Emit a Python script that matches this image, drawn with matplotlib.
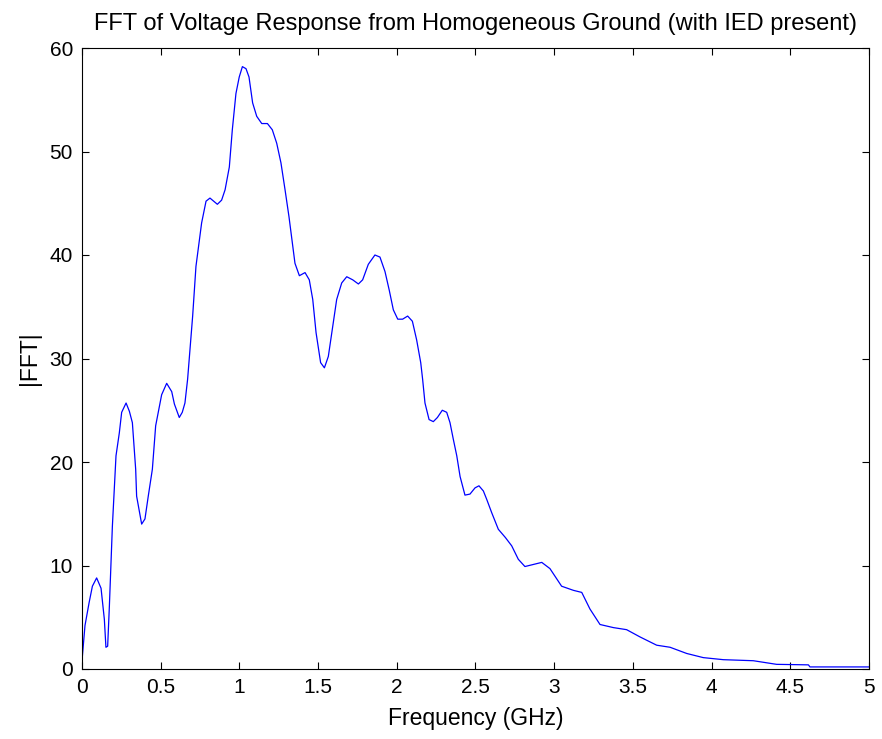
import matplotlib
matplotlib.use("Agg")
import matplotlib.pyplot as plt
from matplotlib.ticker import FuncFormatter

freq_ghz = [0.0, 0.019, 0.045, 0.066, 0.093, 0.121, 0.142, 0.152, 0.163, 0.174, 0.193, 0.216,
            0.237, 0.252, 0.280, 0.301, 0.320, 0.341, 0.347, 0.379, 0.400, 0.421, 0.447, 0.468,
            0.506, 0.538, 0.570, 0.587, 0.618, 0.637, 0.654, 0.671, 0.703, 0.724, 0.760, 0.788,
            0.813, 0.860, 0.887, 0.909, 0.936, 0.955, 0.978, 0.999, 1.019, 1.042, 1.061, 1.084,
            1.110, 1.142, 1.178, 1.209, 1.237, 1.264, 1.290, 1.315, 1.336, 1.353, 1.381, 1.417,
            1.444, 1.466, 1.487, 1.516, 1.540, 1.565, 1.593, 1.618, 1.650, 1.682, 1.720, 1.756,
            1.783, 1.819, 1.861, 1.893, 1.925, 1.952, 1.978, 2.006, 2.037, 2.069, 2.099, 2.126,
            2.152, 2.164, 2.179, 2.205, 2.232, 2.258, 2.289, 2.317, 2.338, 2.359, 2.381, 2.402,
            2.433, 2.465, 2.497, 2.522, 2.550, 2.571, 2.603, 2.645, 2.690, 2.730, 2.772, 2.814,
            2.867, 2.921, 2.973, 3.047, 3.122, 3.175, 3.227, 3.291, 3.376, 3.460, 3.545, 3.651,
            3.736, 3.842, 3.947, 4.075, 4.265, 4.413, 4.615, 4.625, 5.0]
fft_mag = [0.8, 4.2, 6.4, 8.0, 8.8, 7.8, 4.8, 2.1, 2.2, 6.1, 13.8, 20.6,
           22.8, 24.8, 25.7, 24.9, 23.8, 19.3, 16.7, 14.0, 14.5, 16.7, 19.3, 23.5,
           26.5, 27.6, 26.8, 25.6, 24.3, 24.8, 25.7, 28.0, 34.1, 38.9, 43.1, 45.2,
           45.5, 44.9, 45.3, 46.3, 48.5, 52.1, 55.6, 57.2, 58.2, 58.0, 57.2, 54.7,
           53.4, 52.7, 52.7, 52.1, 50.8, 48.9, 46.3, 43.7, 41.2, 39.2, 38.0, 38.3,
           37.6, 35.7, 32.5, 29.6, 29.1, 30.2, 33.1, 35.7, 37.3, 37.9, 37.6, 37.2,
           37.6, 39.1, 40.0, 39.8, 38.4, 36.6, 34.7, 33.8, 33.8, 34.1, 33.6, 31.8,
           29.6, 28.0, 25.7, 24.1, 23.9, 24.3, 25.0, 24.8, 23.8, 22.2, 20.6, 18.6,
           16.8, 16.9, 17.5, 17.7, 17.2, 16.4, 15.1, 13.5, 12.7, 11.9, 10.6, 9.9,
           10.1, 10.3, 9.7, 8.0, 7.6, 7.4, 5.8, 4.3, 4.0, 3.8, 3.1, 2.3,
           2.1, 1.5, 1.1, 0.9, 0.8, 0.45, 0.4, 0.2, 0.2]

x_ticks = [0, 0.5, 1, 1.5, 2, 2.5, 3, 3.5, 4, 4.5, 5]
y_ticks = [0, 10, 20, 30, 40, 50, 60]

plt.rcParams['font.family'] = ['Liberation Sans', 'DejaVu Sans']

fig = plt.figure(figsize=(8.82, 7.39), dpi=100)
ax = fig.add_axes([82/882, (739-669)/739, 787/882, 621/739])
ax.plot(freq_ghz, fft_mag, color='#0000ff', linewidth=0.9)
ax.set_xlim(0, 5)
ax.set_ylim(0, 60)
ax.set_xticks(x_ticks)
ax.set_yticks(y_ticks)
ax.xaxis.set_major_formatter(FuncFormatter(lambda v, p: f"{v:g}"))
ax.tick_params(direction='in', top=True, right=True, labelsize=15, length=5, width=0.8)
ax.tick_params(axis='x', pad=6.5)
ax.tick_params(axis='y', pad=6.5)
for s in ax.spines.values():
    s.set_linewidth(0.8)
ax.set_xlabel('Frequency (GHz)', fontsize=16.5, labelpad=7)
ax.set_ylabel('|FFT|', fontsize=16.5, labelpad=6)
ax.set_title('FFT of Voltage Response from Homogeneous Ground (with IED present)', fontsize=17, pad=13)
fig.savefig('out.png', dpi=100)
